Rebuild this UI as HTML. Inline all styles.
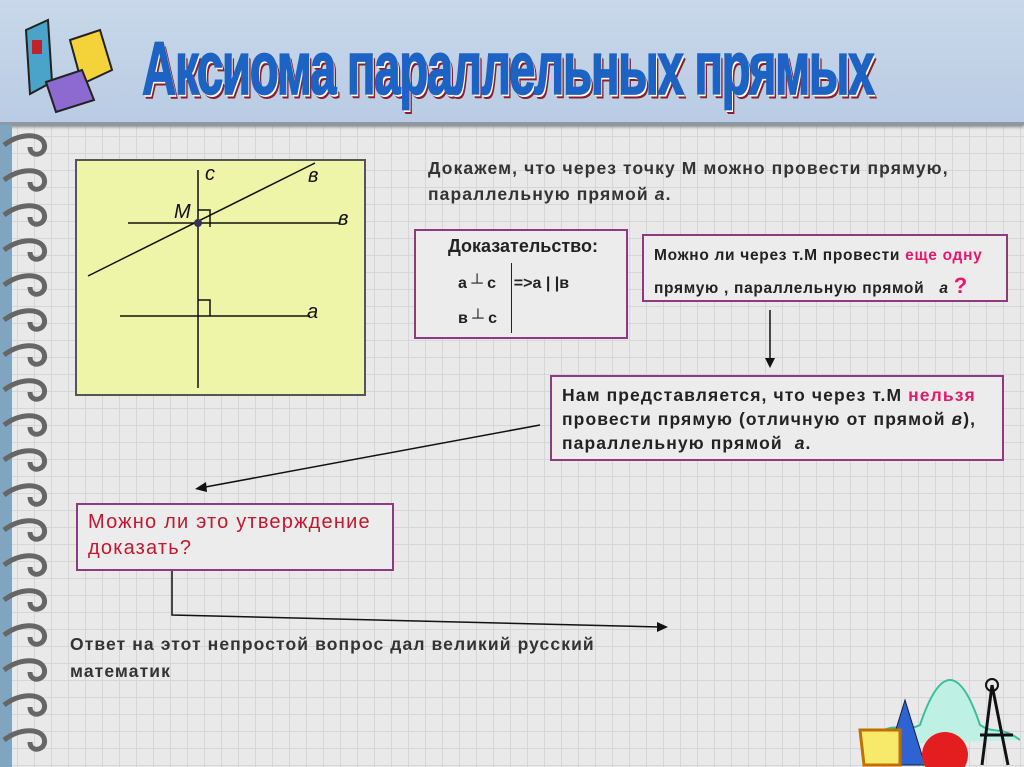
<!DOCTYPE html>
<html><head><meta charset="utf-8"><style>
body{margin:0;width:1024px;height:767px;overflow:hidden;position:relative;font-family:"Liberation Sans","DejaVu Sans",sans-serif;
background-color:#e9e9ea;background-image:linear-gradient(#d6d6d8 1px,transparent 1px),linear-gradient(90deg,#d6d6d8 1px,transparent 1px);background-size:17px 17px;}
.hdr{position:absolute;left:0;top:0;width:1024px;height:122px;background:linear-gradient(#c9d8ea,#b9cce3);border-bottom:3px solid #8c98a6;box-shadow:0 2px 3px #888}
.title{position:absolute;left:142px;top:26px;font-size:68px;font-weight:bold;color:#1d63c4;letter-spacing:-2px;transform:scale(0.70,1.1);transform-origin:left top;text-shadow:1px 1px 0 #fff,2px 2px 0 #fff,3px 3px 0 #8a1e2a,4px 4px 0 #8a1e2a;white-space:nowrap;-webkit-text-stroke:1.5px #1d63c4}
.box{position:absolute;border:2px solid #8f3a80;background:#ececec;}
.t{position:absolute;font-weight:bold;color:#222;white-space:nowrap}
.pink{color:#e6186c}
</style></head><body>
<div class="hdr"></div>
<svg style="position:absolute;left:8px;top:12px" width="110" height="105">
<polygon points="18,18 40,8 44,70 22,82" fill="#4aa3c8" stroke="#222" stroke-width="2"/>
<rect x="24" y="28" width="10" height="14" fill="#c0232a"/>
<polygon points="62,28 92,18 104,58 74,72" fill="#f4d23a" stroke="#222" stroke-width="2"/>
<polygon points="38,70 74,58 86,88 48,100" fill="#8c6ad0" stroke="#222" stroke-width="2"/>
</svg>
<div class="title">Аксиома параллельных прямых</div>
<svg style="position:absolute;left:0;top:125px" width="60" height="642">
<rect x="0" y="0" width="12" height="642" fill="#7fa5c0"/>
<g fill="none" stroke="#666" stroke-width="5">
<path d="M4,20 C20,8 40,8 44,18 C48,30 30,34 30,22"/>
<path d="M4,55 C20,43 40,43 44,53 C48,65 30,69 30,57"/>
<path d="M4,90 C20,78 40,78 44,88 C48,100 30,104 30,92"/>
<path d="M4,125 C20,113 40,113 44,123 C48,135 30,139 30,127"/>
<path d="M4,160 C20,148 40,148 44,158 C48,170 30,174 30,162"/>
<path d="M4,195 C20,183 40,183 44,193 C48,205 30,209 30,197"/>
<path d="M4,230 C20,218 40,218 44,228 C48,240 30,244 30,232"/>
<path d="M4,265 C20,253 40,253 44,263 C48,275 30,279 30,267"/>
<path d="M4,300 C20,288 40,288 44,298 C48,310 30,314 30,302"/>
<path d="M4,335 C20,323 40,323 44,333 C48,345 30,349 30,337"/>
<path d="M4,370 C20,358 40,358 44,368 C48,380 30,384 30,372"/>
<path d="M4,405 C20,393 40,393 44,403 C48,415 30,419 30,407"/>
<path d="M4,440 C20,428 40,428 44,438 C48,450 30,454 30,442"/>
<path d="M4,475 C20,463 40,463 44,473 C48,485 30,489 30,477"/>
<path d="M4,510 C20,498 40,498 44,508 C48,520 30,524 30,512"/>
<path d="M4,545 C20,533 40,533 44,543 C48,555 30,559 30,547"/>
<path d="M4,580 C20,568 40,568 44,578 C48,590 30,594 30,582"/>
<path d="M4,615 C20,603 40,603 44,613 C48,625 30,629 30,617"/>
</g></svg>
<svg style="position:absolute;left:0;top:0" width="1024" height="767">
<rect x="76" y="160" width="289" height="235" fill="#eef5a8" stroke="#555" stroke-width="2"/>
<g stroke="#111" stroke-width="1.5" fill="none">
<line x1="198" y1="170" x2="198" y2="388"/>
<line x1="88" y1="276" x2="315" y2="163"/>
<line x1="128" y1="223" x2="340" y2="223"/>
<line x1="120" y1="316" x2="310" y2="316"/>
<polyline points="198,210 210,210 210,227"/>
<polyline points="198,300 210,300 210,316"/>
<line x1="770" y1="310" x2="770" y2="360"/>
<line x1="540" y1="425" x2="200" y2="488"/>
<polyline points="172,568 172,615 660,627"/>
</g>
<circle cx="198" cy="223" r="4" fill="#335" />
<polygon points="765,358 775,358 770,368" fill="#111"/>
<polygon points="195,489 206,482 207,492" fill="#111"/>
<polygon points="668,627 657,622 657,632" fill="#111"/>
<g font-style="italic" font-size="20" fill="#111"><text x="205" y="180">с</text><text x="308" y="182">в</text><text x="174" y="218">М</text><text x="338" y="225">в</text><text x="307" y="318">а</text></g>
<g transform="translate(820,665)">
<path d="M50,80 C70,50 80,70 100,60 C120,0 140,0 160,60 C175,70 180,60 200,75" fill="#bff0e4" stroke="#3bbf9a" stroke-width="2"/>
<polygon points="85,35 65,100 105,100" fill="#2f63d4" stroke="#123" />
<polygon points="40,65 80,65 80,100 44,100" fill="#f7ea6a" stroke="#c07000" stroke-width="3"/>
<circle cx="125" cy="90" r="23" fill="#e41e1e"/>
<g stroke="#111" stroke-width="3"><line x1="172" y1="20" x2="162" y2="100"/><line x1="172" y1="20" x2="188" y2="100"/><line x1="160" y1="70" x2="193" y2="70"/></g>
<circle cx="172" cy="20" r="6" fill="none" stroke="#111" stroke-width="2"/>
</g>
</svg>
<div class="t" style="left:428px;top:155px;font-size:17.5px;letter-spacing:1.1px;color:#333;line-height:26px">Докажем, что через точку М можно провести прямую,<br>параллельную прямой <i>а</i>.</div>
<div class="box" style="left:414px;top:229px;width:210px;height:106px"></div>
<div class="t" style="left:448px;top:236px;font-size:18px">Доказательство:</div>
<div class="t" style="left:458px;top:275px;font-size:16px">а ┴ с &nbsp;&nbsp; =&gt;а | |в</div>
<div class="t" style="left:458px;top:310px;font-size:16px">в ┴ с</div>
<div style="position:absolute;left:511px;top:263px;width:1px;height:70px;background:#222"></div>
<div class="box" style="left:642px;top:234px;width:362px;height:64px"></div>
<div class="t" style="left:654px;top:241px;font-size:15.5px;letter-spacing:0.7px;line-height:30px">Можно ли через т.М провести <span class="pink">еще одну</span><br>прямую , параллельную прямой &nbsp;&nbsp;<i>а</i> <span class="pink" style="font-size:22px">?</span></div>
<div class="box" style="left:550px;top:375px;width:450px;height:82px"></div>
<div class="t" style="left:562px;top:383px;font-size:17.5px;letter-spacing:1.1px;line-height:24px">Нам представляется, что через т.М <span class="pink">нельзя</span><br>провести прямую (отличную от прямой <i>в</i>),<br>параллельную прямой &nbsp;<i>а</i>.</div>
<div class="box" style="left:76px;top:503px;width:314px;height:64px"></div>
<div style="position:absolute;left:88px;top:509px;font-size:20px;letter-spacing:1.2px;color:#c0182e;line-height:26px;white-space:nowrap">Можно ли это утверждение<br>доказать?</div>
<div class="t" style="left:70px;top:631px;font-size:17.5px;letter-spacing:1.1px;color:#333;line-height:27px">Ответ на этот непростой вопрос дал великий русский<br>математик</div>
</body></html>
